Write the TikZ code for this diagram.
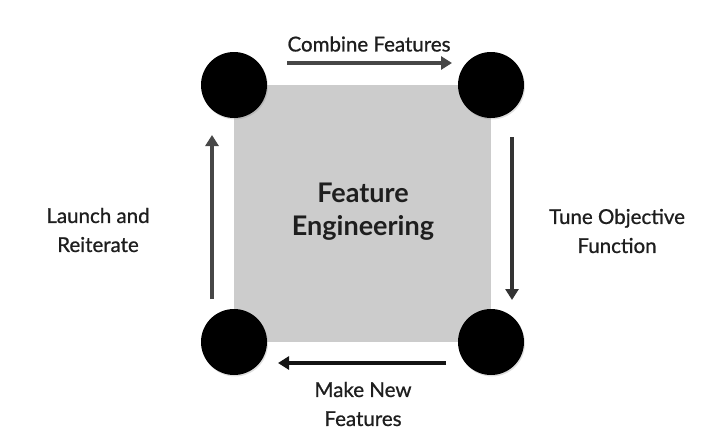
\documentclass[tikz,border=0pt]{standalone}
\usepackage{fontspec}
\setmainfont{Lato}
\newfontfamily\labelfont[FakeBold=0.9]{Lato}
\usetikzlibrary{arrows.meta,shadows}
\definecolor{boxgray}{HTML}{CCCCCC}
\definecolor{txt}{HTML}{1E1E1E}
\tikzset{
  corner/.style={circle,fill=black,minimum size=66pt,inner sep=0pt,drop shadow={opacity=0.25,shadow xshift=1pt,shadow yshift=-1.5pt}},
  flow/.style={line width=4pt,-{Triangle[length=11pt,width=13pt]}},
  lbl/.style={text=txt,font=\labelfont\fontsize{20.5}{29}\selectfont,align=center}
}
\begin{document}
\begin{tikzpicture}[x=1pt,y=-1pt]
\useasboundingbox (0,0) rectangle (714,439);
\fill[boxgray] (234,85) rectangle (491,342);
\node[corner] (tl) at (234,85) {};
\node[corner] (tr) at (491,85) {};
\node[corner] (bl) at (234,342) {};
\node[corner] (br) at (491,342) {};
\coordinate (a1) at (287,63); \coordinate (a2) at (452,63);
\coordinate (b1) at (512,137); \coordinate (b2) at (512,300);
\coordinate (c1) at (446,363); \coordinate (c2) at (278,363);
\coordinate (d1) at (212,299); \coordinate (d2) at (212,135);
\draw[flow,color=black!72] (a1) -- (a2);
\draw[flow,color=black!80] (b1) -- (b2);
\draw[flow,color=black!92] (c1) -- (c2);
\draw[flow,color=black!72] (d1) -- (d2);
\node[lbl] (t1) at (369,44) {Combine Features};
\node[lbl] (t2) at (617,231) {Tune Objective\\Function};
\node[lbl] (t3) at (363,404) {Make New\\Features};
\node[lbl] (t4) at (98,230) {Launch and\\Reiterate};
\node[text=txt,font=\bfseries\fontsize{27}{33}\selectfont,align=center] (title) at (363,212) {Feature\\Engineering};
\end{tikzpicture}
\end{document}
